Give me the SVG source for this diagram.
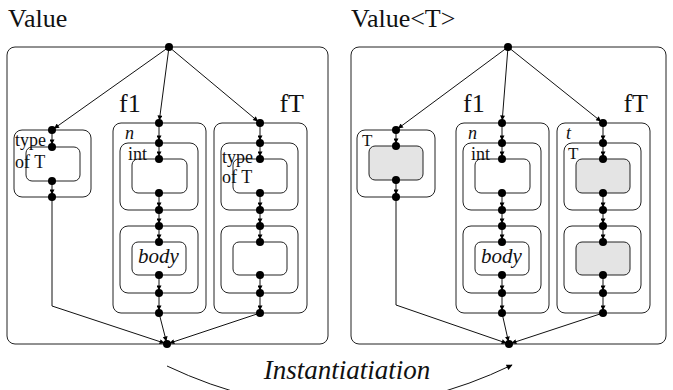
<svg xmlns="http://www.w3.org/2000/svg" width="673" height="390" viewBox="0 0 673 390">
<defs>
<style>
.box{fill:none;stroke:#222;stroke-width:1}
.gray{fill:#e4e4e4;stroke:#222;stroke-width:1}
.edge{fill:none;stroke:#111;stroke-width:1;marker-end:url(#ah)}
.line{fill:none;stroke:#111;stroke-width:1}
.nd{fill:#000}
.t{fill:#111}
.title{font-size:26px}
.fl{font-size:26px}
.sm{font-size:18px}
.it{font-style:italic}
</style>
<marker id="ah" viewBox="0 0 10 10" refX="15" refY="5" markerWidth="7" markerHeight="5" markerUnits="userSpaceOnUse" orient="auto">
<path d="M0,0 L10,5 L0,10 z" fill="#000"/>
</marker>
<marker id="ah2" viewBox="0 0 10 10" refX="9" refY="5" markerWidth="8" markerHeight="6" markerUnits="userSpaceOnUse" orient="auto">
<path d="M0,0 L10,5 L0,10 z" fill="#000"/>
</marker>
</defs>

<g font-family="'Liberation Serif', 'DejaVu Serif', 'Times New Roman', serif">
<text class="t title" x="8" y="27">Value</text>
<text class="t title" x="351" y="27">Value&lt;T&gt;</text>

<!-- LEFT PANEL -->
<g id="value">
<rect class="box" x="7" y="47" width="321" height="297" rx="8"/>
</g>
<g id="value-type">
<rect class="box" x="14" y="130" width="77" height="67" rx="8"/>
<rect class="box" x="26" y="147" width="54" height="34" rx="6"/>
<text class="t sm" x="15" y="146">type</text>
<text class="t sm" x="15" y="168">of T</text>
</g>
<g id="value-f1">
<rect class="box" x="113" y="123" width="93" height="190" rx="8"/>
<rect class="box" x="120" y="143" width="78" height="67" rx="8"/>
<rect class="box" x="132" y="159" width="55" height="34" rx="6"/>
<rect class="box" x="120" y="226" width="78" height="67" rx="8"/>
<rect class="box" x="132" y="242" width="54" height="33" rx="6"/>
<text class="t fl" x="119" y="112">f1</text>
<text class="t sm it" x="125" y="139">n</text>
<text class="t sm" x="128" y="160">int</text>
<text class="t it" font-size="21" x="138" y="263">body</text>
</g>
<g id="value-fT">
<rect class="box" x="214" y="123" width="93" height="190" rx="8"/>
<rect class="box" x="221" y="143" width="77" height="67" rx="8"/>
<rect class="box" x="233" y="159" width="54" height="34" rx="6"/>
<rect class="box" x="221" y="226" width="77" height="67" rx="8"/>
<rect class="box" x="233" y="242" width="54" height="33" rx="6"/>
<text class="t fl" x="304" y="112" text-anchor="end">fT</text>
<text class="t sm" x="222" y="163">type</text>
<text class="t sm" x="222" y="183">of T</text>
</g>

<!-- RIGHT PANEL -->
<g id="valueT">
<rect class="box" x="351" y="47" width="315" height="297" rx="8"/>
</g>
<g id="valueT-type">
<rect class="box" x="357" y="130" width="78" height="67" rx="8"/>
<rect class="gray" x="369" y="146" width="54" height="34" rx="6"/>
<text class="t" font-size="17" x="362" y="146">T</text>
</g>
<g id="valueT-f1">
<rect class="box" x="456" y="123" width="93" height="190" rx="8"/>
<rect class="box" x="463" y="143" width="78" height="67" rx="8"/>
<rect class="box" x="475" y="159" width="55" height="34" rx="6"/>
<rect class="box" x="463" y="226" width="78" height="67" rx="8"/>
<rect class="box" x="475" y="242" width="54" height="33" rx="6"/>
<text class="t fl" x="463" y="112">f1</text>
<text class="t sm it" x="468" y="139">n</text>
<text class="t sm" x="471" y="160">int</text>
<text class="t it" font-size="21" x="481" y="263">body</text>
</g>
<g id="valueT-fT">
<rect class="box" x="557" y="123" width="93" height="190" rx="8"/>
<rect class="box" x="564" y="143" width="77" height="67" rx="8"/>
<rect class="gray" x="576" y="159" width="54" height="34" rx="6"/>
<rect class="box" x="564" y="226" width="77" height="67" rx="8"/>
<rect class="gray" x="576" y="242" width="54" height="33" rx="6"/>
<text class="t fl" x="648" y="112" text-anchor="end">fT</text>
<text class="t sm it" x="566" y="139">t</text>
<text class="t" font-size="17" x="568" y="159">T</text>
</g>

<g id="connectors">
<path class="edge" d="M169,47 L52,130"/>
<path class="edge" d="M169,47 L159,123"/>
<path class="edge" d="M169,47 L260,123"/>
<path class="edge" d="M52,130 L52,147"/>
<path class="edge" d="M52,181 L52,197"/>
<path class="edge" d="M52,197 L52,306 L167,344"/>
<path class="edge" d="M159,123 L159,143"/>
<path class="edge" d="M159,143 L159,159"/>
<path class="edge" d="M159,193 L159,210"/>
<path class="edge" d="M159,210 L159,226"/>
<path class="edge" d="M159,226 L159,242"/>
<path class="edge" d="M159,275 L159,293"/>
<path class="edge" d="M159,293 L159,313"/>
<path class="edge" d="M159,313 L167,344"/>
<path class="edge" d="M260,123 L260,143"/>
<path class="edge" d="M260,143 L260,159"/>
<path class="edge" d="M260,193 L260,210"/>
<path class="edge" d="M260,210 L260,226"/>
<path class="edge" d="M260,226 L260,242"/>
<path class="edge" d="M260,275 L260,293"/>
<path class="edge" d="M260,293 L260,313"/>
<path class="edge" d="M260,313 L167,344"/>
<path class="edge" d="M508,47 L396,130"/>
<path class="edge" d="M508,47 L502,123"/>
<path class="edge" d="M508,47 L603,123"/>
<path class="edge" d="M396,130 L396,146"/>
<path class="edge" d="M396,180 L396,197"/>
<path class="edge" d="M396,197 L396,305 L509,344"/>
<path class="edge" d="M502,123 L502,143"/>
<path class="edge" d="M502,143 L502,159"/>
<path class="edge" d="M502,193 L502,210"/>
<path class="edge" d="M502,210 L502,226"/>
<path class="edge" d="M502,226 L502,242"/>
<path class="edge" d="M502,275 L502,293"/>
<path class="edge" d="M502,293 L502,313"/>
<path class="edge" d="M502,313 L509,344"/>
<path class="edge" d="M603,123 L603,143"/>
<path class="edge" d="M603,143 L603,159"/>
<path class="edge" d="M603,193 L603,210"/>
<path class="edge" d="M603,210 L603,226"/>
<path class="edge" d="M603,226 L603,242"/>
<path class="edge" d="M603,275 L603,293"/>
<path class="edge" d="M603,293 L603,313"/>
<path class="edge" d="M603,313 L509,344"/>
<path class="line" d="M167,366 Q340,448 512,365" marker-end="url(#ah2)"/>
</g>

<g id="ports">
<circle class="nd" cx="169" cy="47" r="4"/>
<circle class="nd" cx="167" cy="344" r="4"/>
<circle class="nd" cx="52" cy="130" r="4"/>
<circle class="nd" cx="52" cy="147" r="4"/>
<circle class="nd" cx="52" cy="181" r="4"/>
<circle class="nd" cx="52" cy="197" r="4"/>
<circle class="nd" cx="159" cy="123" r="4"/><circle class="nd" cx="159" cy="143" r="4"/><circle class="nd" cx="159" cy="159" r="4"/><circle class="nd" cx="159" cy="193" r="4"/><circle class="nd" cx="159" cy="210" r="4"/><circle class="nd" cx="159" cy="226" r="4"/><circle class="nd" cx="159" cy="242" r="4"/><circle class="nd" cx="159" cy="275" r="4"/><circle class="nd" cx="159" cy="293" r="4"/><circle class="nd" cx="159" cy="313" r="4"/>
<circle class="nd" cx="260" cy="123" r="4"/><circle class="nd" cx="260" cy="143" r="4"/><circle class="nd" cx="260" cy="159" r="4"/><circle class="nd" cx="260" cy="193" r="4"/><circle class="nd" cx="260" cy="210" r="4"/><circle class="nd" cx="260" cy="226" r="4"/><circle class="nd" cx="260" cy="242" r="4"/><circle class="nd" cx="260" cy="275" r="4"/><circle class="nd" cx="260" cy="293" r="4"/><circle class="nd" cx="260" cy="313" r="4"/>
<circle class="nd" cx="508" cy="47" r="4"/>
<circle class="nd" cx="509" cy="344" r="4"/>
<circle class="nd" cx="396" cy="130" r="4"/>
<circle class="nd" cx="396" cy="146" r="4"/>
<circle class="nd" cx="396" cy="180" r="4"/>
<circle class="nd" cx="396" cy="197" r="4"/>
<circle class="nd" cx="502" cy="123" r="4"/><circle class="nd" cx="502" cy="143" r="4"/><circle class="nd" cx="502" cy="159" r="4"/><circle class="nd" cx="502" cy="193" r="4"/><circle class="nd" cx="502" cy="210" r="4"/><circle class="nd" cx="502" cy="226" r="4"/><circle class="nd" cx="502" cy="242" r="4"/><circle class="nd" cx="502" cy="275" r="4"/><circle class="nd" cx="502" cy="293" r="4"/><circle class="nd" cx="502" cy="313" r="4"/>
<circle class="nd" cx="603" cy="123" r="4"/><circle class="nd" cx="603" cy="143" r="4"/><circle class="nd" cx="603" cy="159" r="4"/><circle class="nd" cx="603" cy="193" r="4"/><circle class="nd" cx="603" cy="210" r="4"/><circle class="nd" cx="603" cy="226" r="4"/><circle class="nd" cx="603" cy="242" r="4"/><circle class="nd" cx="603" cy="275" r="4"/><circle class="nd" cx="603" cy="293" r="4"/><circle class="nd" cx="603" cy="313" r="4"/>
</g>

<text class="t it" font-size="27" x="347" y="379" text-anchor="middle">Instantiatiation</text>
</g>
</svg>
